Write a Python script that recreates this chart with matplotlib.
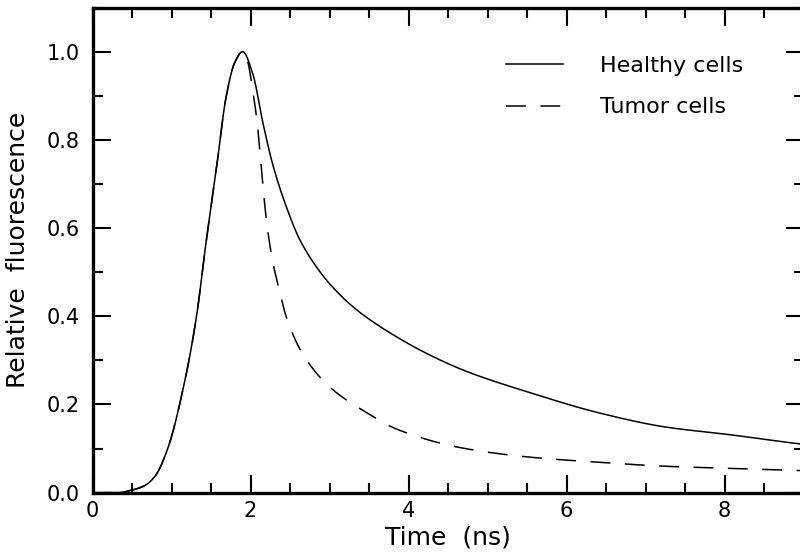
import numpy as np
import matplotlib
matplotlib.use('Agg')
import matplotlib.pyplot as plt
from matplotlib.ticker import MultipleLocator

# values
healthy_t = [0.0, 0.3, 0.5, 0.66, 0.79, 0.95, 1.17, 1.315, 1.44, 1.57, 1.69, 1.80, 1.90,
             2.03, 2.16, 2.28, 2.45, 2.62, 2.87, 3.0, 3.23, 3.42, 3.88, 4.26, 4.72,
             5.57, 6.41, 7.25, 8.09, 8.89, 9.0]
healthy_y = [0.0, 0.0, 0.006, 0.016, 0.037, 0.099, 0.255, 0.398, 0.571, 0.737, 0.896, 0.975, 1.0,
             0.949, 0.836, 0.745, 0.650, 0.575, 0.503, 0.474, 0.432, 0.404, 0.350, 0.313, 0.276,
             0.225, 0.181, 0.149, 0.131, 0.112, 0.110]

tumor_t = [0.0, 0.3, 0.5, 0.66, 0.79, 0.95, 1.17, 1.315, 1.44, 1.57, 1.69, 1.80, 1.90,
           1.96, 2.03, 2.09, 2.12, 2.16, 2.20, 2.27, 2.37, 2.45, 2.66, 3.0, 3.42, 3.88, 4.72,
           5.57, 6.41, 7.25, 8.09, 8.81, 9.0]
tumor_y = [0.0, 0.0, 0.006, 0.016, 0.037, 0.099, 0.255, 0.398, 0.571, 0.737, 0.896, 0.975, 1.0,
           0.98, 0.91, 0.83, 0.77, 0.69, 0.62, 0.535, 0.455, 0.40, 0.315, 0.24, 0.187, 0.142, 0.10,
           0.080, 0.069, 0.060, 0.055, 0.051, 0.050]


def smooth(t, y, n=800):
    # monotone cubic (PCHIP) through the read points
    t = np.asarray(t, float)
    y = np.asarray(y, float)
    h = np.diff(t)
    d = np.diff(y) / h
    m = np.zeros_like(y)
    for k in range(1, len(y) - 1):
        if d[k - 1] * d[k] > 0:
            w1 = 2 * h[k] + h[k - 1]
            w2 = h[k] + 2 * h[k - 1]
            m[k] = (w1 + w2) / (w1 / d[k - 1] + w2 / d[k])
    m[0], m[-1] = d[0], d[-1]
    tt = np.linspace(t[0], t[-1], n)
    idx = np.clip(np.searchsorted(t, tt) - 1, 0, len(t) - 2)
    s = (tt - t[idx]) / h[idx]
    h00 = 2 * s**3 - 3 * s**2 + 1
    h10 = s**3 - 2 * s**2 + s
    h01 = -2 * s**3 + 3 * s**2
    h11 = s**3 - s**2
    yy = h00 * y[idx] + h10 * h[idx] * m[idx] + h01 * y[idx + 1] + h11 * h[idx] * m[idx + 1]
    return tt, yy


fig = plt.figure(figsize=(8.0, 5.57), dpi=100)
ax = fig.add_axes([92.5 / 800, (557 - 492.7) / 557, 711 / 800, 485.2 / 557])

t, y = smooth(healthy_t, healthy_y)
ax.plot(t, y, color='black', lw=1.1, label='Healthy cells')
t, y = smooth(tumor_t, tumor_y)
ax.plot(t, y, color='black', lw=1.1, dashes=(13, 9.5), label='Tumor cells')

ax.set_xlim(0, 9)
ax.set_ylim(0, 1.1)
ax.xaxis.set_major_locator(MultipleLocator(2))
ax.xaxis.set_minor_locator(MultipleLocator(0.5))
ax.yaxis.set_major_locator(MultipleLocator(0.2))
ax.yaxis.set_minor_locator(MultipleLocator(0.1))
ax.yaxis.set_major_formatter(plt.FormatStrFormatter('%.1f'))

ax.tick_params(which='both', direction='in', top=True, right=True, width=1.5,
               labelsize=15, color='black')
ax.tick_params(which='major', length=13)
ax.tick_params(which='minor', length=7)
ax.tick_params(axis='x', pad=6)
ax.tick_params(axis='y', pad=9)
for sp in ax.spines.values():
    sp.set_linewidth(2.4)

ax.set_xlabel('Time  (ns)', fontsize=18, labelpad=3)
ax.set_ylabel('Relative  fluorescence', fontsize=18, labelpad=12)

ax.legend(loc='upper left', bbox_to_anchor=(0.5816, 0.90), frameon=False,
          fontsize=16, borderpad=0, borderaxespad=0,
          handlelength=2.56, handletextpad=1.66, labelspacing=0.96)

fig.savefig('out.png', dpi=100)
